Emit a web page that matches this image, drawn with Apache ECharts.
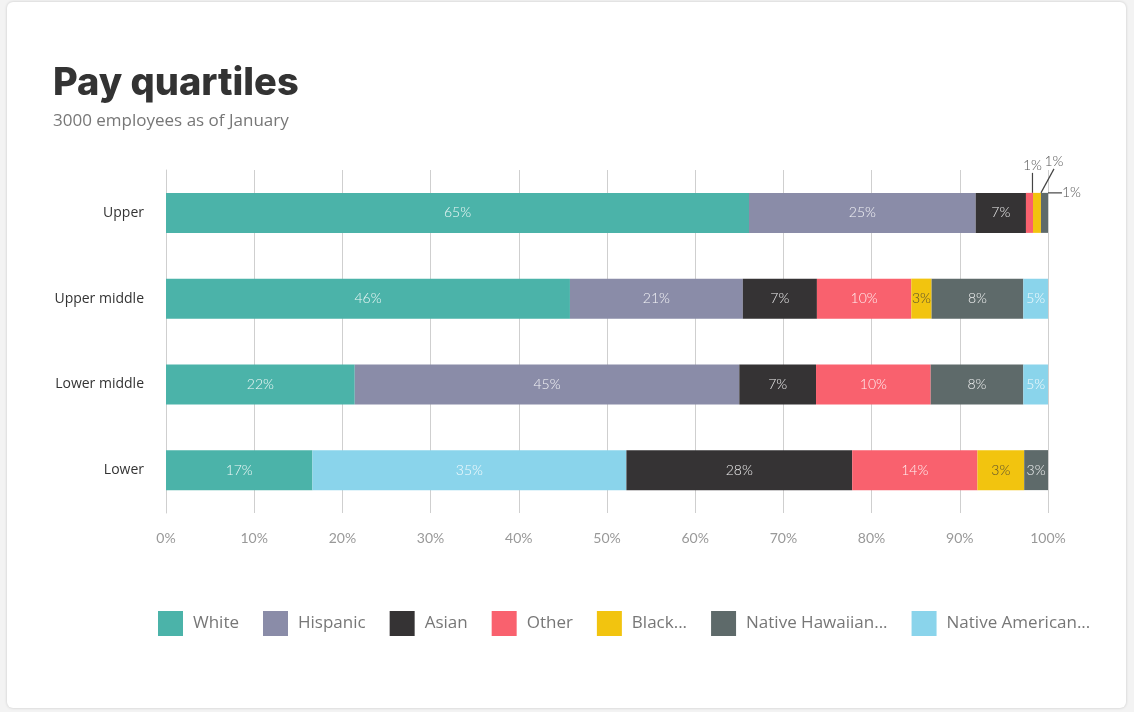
<!DOCTYPE html>
<html>
<head>
<meta charset="utf-8">
<script src="https://cdn.jsdelivr.net/npm/echarts@6/dist/echarts.min.js"></script>
<style>
html,body{margin:0;padding:0;background:#f3f3f3;}
#card{position:absolute;left:7px;top:2px;width:1119px;height:706px;background:#fff;border-radius:6px;box-shadow:0 0 3px rgba(0,0,0,0.18);}
#chart{position:absolute;left:0;top:0;width:1134px;height:712px;}
</style>
</head>
<body>
<div id="card"></div>
<div id="chart"></div>
<script>
const categories = ['Upper', 'Upper middle', 'Lower middle', 'Lower'];
const xTicks = [0, 10, 20, 30, 40, 50, 60, 70, 80, 90, 100];
const legendNames = ['White', 'Hispanic', 'Asian', 'Other', 'Black...', 'Native Hawaiian...', 'Native American...'];

// bar lengths (share of the row, %)
const white      = [66.1, 45.8, 21.4, 16.6];
const hispanic   = [25.7, 19.6, 43.6, '-'];
const asian      = [5.7, 8.4, 8.7, 25.6];
const other      = [0.8, 10.7, 13.0, 14.2];
const black      = [0.9, 2.3, '-', 5.3];
const nhawaiian  = [0.8, 10.4, 10.5, 2.7];
const namerican  = ['-', 2.8, 2.8, 35.6];   // in "Lower" it sits right after White

// printed labels
const whiteLbl     = ['65%', '46%', '22%', '17%'];
const hispanicLbl  = ['25%', '21%', '45%', ''];
const asianLbl     = ['7%', '7%', '7%', '28%'];
const otherLbl     = ['1%', '10%', '10%', '14%'];
const blackLbl     = ['1%', '3%', '', '3%'];
const nhawaiianLbl = ['1%', '8%', '8%', '3%'];
const namericanLbl = ['', '5%', '5%', '35%'];

const colors = {
  white: '#4bb3a9', hispanic: '#8a8ca8', asian: '#353334', other: '#f9616e',
  black: '#f2c40f', nh: '#5e6a6a', na: '#8ad4eb'
};

const FONT = 'Lato';
const UIFONT = 'Open Sans';

function mkSeries(name, data, labels, color, opts) {
  opts = opts || {};
  return Object.assign({
    name: name,
    type: 'bar',
    stack: 'total',
    barWidth: 40,
    data: data.map(function (v, i) { return (opts.only !== undefined && i !== opts.only) ? '-' : v; }),
    itemStyle: { color: color },
    label: {
      show: true,
      position: 'inside',
      color: opts.labelColor || 'rgba(255,255,255,0.9)',
      fontFamily: FONT,
      fontSize: 14,
      fontWeight: 300,
      formatter: function (p) { return labels[p.dataIndex]; }
    },
    emphasis: { disabled: true }
  }, opts.extra || {});
}

function outsideLabel(dx, dy) {
  return {
    labelLine: { show: true, length2: 0, lineStyle: { color: '#444', width: 1.2 } },
    labelLayout: function (p) {
      if (p.dataIndex === 0) return { dx: dx, dy: dy };
      return {};
    }
  };
}

const series = [
  mkSeries(legendNames[0], white, whiteLbl, colors.white),
  mkSeries(legendNames[6], namerican, namericanLbl, colors.na, { only: 3 }),
  mkSeries(legendNames[1], hispanic, hispanicLbl, colors.hispanic),
  mkSeries(legendNames[2], asian, asianLbl, colors.asian),
  mkSeries(legendNames[3], other, otherLbl, colors.other, { extra: outsideLabel(3, -47) }),
  mkSeries(legendNames[4], black, blackLbl, colors.black, { labelColor: '#5a5030', extra: outsideLabel(17, -51) }),
  mkSeries(legendNames[5], nhawaiian, nhawaiianLbl, colors.nh, { extra: outsideLabel(27, -20) }),
  mkSeries(legendNames[6], namerican.map(function (v, i) { return i === 3 ? '-' : v; }), namericanLbl, colors.na)
];

// Upper-row outside labels are dark
[4, 5, 6].forEach(function (si) {
  const s = series[si];
  s.data = s.data.map(function (v, i) {
    if (i === 0) return { value: v, label: { color: '#555' } };
    return v;
  });
});

const chart = echarts.init(document.getElementById('chart'));
chart.setOption({
  animation: false,
  title: {
    text: 'Pay quartiles',
    subtext: '3000 employees as of January',
    left: 48,
    top: 60,
    itemGap: 10,
    textStyle: { fontFamily: 'Inter', fontSize: 38, fontWeight: 800, color: '#333' },
    subtextStyle: { fontFamily: UIFONT, fontSize: 17, color: '#777' }
  },
  legend: {
    data: legendNames,
    left: 153,
    top: 606,
    itemWidth: 25,
    itemHeight: 25,
    itemGap: 24,
    icon: 'rect',
    textStyle: { fontFamily: UIFONT, fontSize: 17, color: '#777', padding: [0, 0, 0, 5] }
  },
  grid: { left: 166, right: 86, top: 170, bottom: 199, containLabel: false },
  xAxis: {
    type: 'value',
    min: 0,
    max: 100,
    interval: 10,
    axisLine: { show: false },
    axisTick: { show: false },
    splitLine: { show: true, lineStyle: { color: '#cfcfcf', width: 1 } },
    axisLabel: {
      fontFamily: FONT, fontSize: 14, color: '#999', margin: 18,
      formatter: function (v) { return xTicks.indexOf(v) >= 0 ? v + '%' : ''; }
    }
  },
  yAxis: {
    type: 'category',
    inverse: true,
    data: categories,
    axisLine: { show: true, lineStyle: { color: '#cfcfcf' } },
    axisTick: { show: false },
    axisLabel: { fontFamily: UIFONT, fontSize: 14, color: '#333', margin: 22, padding: [0, 0, 3, 0] }
  },
  series: series
});
</script>
</body>
</html>
